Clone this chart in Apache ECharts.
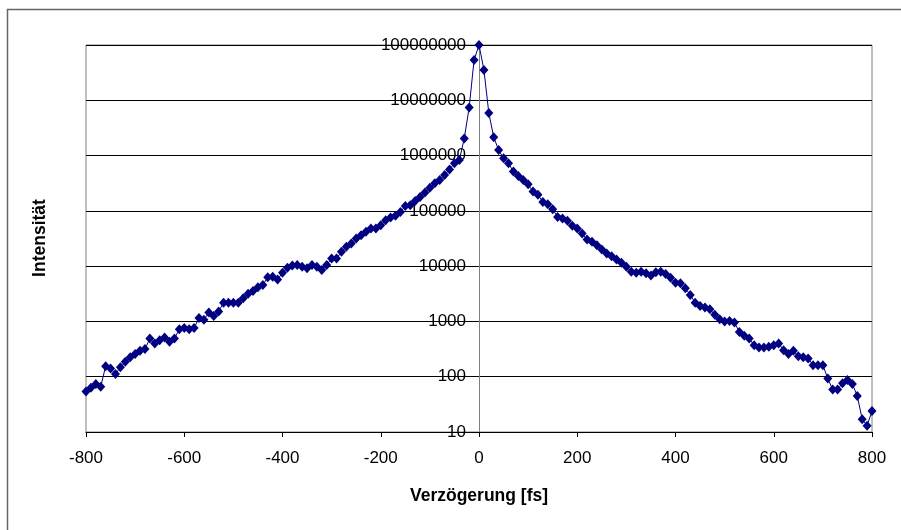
<!DOCTYPE html>
<html>
<head>
<meta charset="utf-8">
<script src="https://cdn.jsdelivr.net/npm/echarts@6/dist/echarts.min.js"></script>
<style>
  html, body { margin: 0; padding: 0; background: #ffffff; }
  #chart { width: 901px; height: 530px; }
</style>
</head>
<body>
<div id="chart"></div>
<script>
// Delay values (fs) of the measured autocorrelation trace
const delays = [
  -800, -790, -780, -770, -760, -750, -740, -730, -720, -710,
  -700, -690, -680, -670, -660, -650, -640, -630, -620, -610,
  -600, -590, -580, -570, -560, -550, -540, -530, -520, -510,
  -500, -490, -480, -470, -460, -450, -440, -430, -420, -410,
  -400, -390, -380, -370, -360, -350, -340, -330, -320, -310,
  -300, -290, -280, -270, -260, -250, -240, -230, -220, -210,
  -200, -190, -180, -170, -160, -150, -140, -130, -120, -110,
  -100, -90, -80, -70, -60, -50, -40, -30, -20, -10,
  0, 10, 20, 30, 40, 50, 60, 70, 80, 90,
  100, 110, 120, 130, 140, 150, 160, 170, 180, 190,
  200, 210, 220, 230, 240, 250, 260, 270, 280, 290,
  300, 310, 320, 330, 340, 350, 360, 370, 380, 390,
  400, 410, 420, 430, 440, 450, 460, 470, 480, 490,
  500, 510, 520, 530, 540, 550, 560, 570, 580, 590,
  600, 610, 620, 630, 640, 650, 660, 670, 680, 690,
  700, 710, 720, 730, 740, 750, 760, 770, 780, 790,
  800
];

// Measured intensity at each delay
const intensity = [
  54, 63, 74, 66, 155, 141, 112, 148, 186, 224,
  257, 295, 316, 490, 398, 457, 513, 427, 490, 724,
  759, 724, 759, 1148, 1072, 1445, 1259, 1514, 2188, 2188,
  2188, 2188, 2630, 3162, 3548, 4169, 4571, 6310, 6457, 5754,
  7586, 9333, 10233, 10471, 9772, 9120, 10471, 9772, 8511, 10471,
  13804, 13804, 18197, 22387, 25704, 31623, 36308, 41687, 47863, 47863,
  54954, 67608, 75858, 81283, 95499, 123027, 125893, 151356, 177828, 213796,
  263027, 316228, 363078, 446684, 562341, 724436, 831764, 2041738, 7413102, 53703180,
  100000000, 35481339, 5888437, 2137962, 1258925, 891251, 724436, 512861, 426580, 363078,
  301995, 223872, 194984, 144544, 131826, 107152, 77625, 72444, 66069, 53703,
  47863, 38905, 30200, 27542, 23988, 19953, 16982, 15136, 13183, 11482,
  9772, 7943, 7586, 7943, 7413, 6761, 7762, 7943, 7244, 6166,
  5012, 4898, 3981, 3020, 2188, 1905, 1778, 1660, 1318, 1096,
  1000, 1023, 955, 646, 550, 490, 372, 339, 339, 347,
  372, 398, 302, 257, 295, 234, 224, 214, 162, 162,
  162, 93, 59, 59, 76, 87, 74, 45, 17, 13,
  24
];

// Axis ranges and texts
const xRange = [-800, 800];
const xStep = 200;
const yRange = [10, 100000000];
const xTitle = 'Verzögerung [fs]';
const yTitle = 'Intensität';

const FONT = '"Liberation Sans", Arial, sans-serif';

// Plot area box (px)
const GRID = { left: 86, right: 29, top: 45, bottom: 98 };
const plotWidth = 901 - GRID.left - GRID.right;
// the value axis crosses the delay axis at 0 fs
const yAxisShift = plotWidth * (0 - xRange[0]) / (xRange[1] - xRange[0]);

const chart = echarts.init(document.getElementById('chart'), null, { renderer: 'canvas' });

const points = delays.map((d, i) => [d, intensity[i]]);

chart.setOption({
  animation: false,
  backgroundColor: '#ffffff',
  grid: {
    left: GRID.left, right: GRID.right, top: GRID.top, bottom: GRID.bottom,
    containLabel: false,
    outerBoundsMode: 'none',
    show: true,
    borderColor: '#808080',
    borderWidth: 1,
    backgroundColor: 'transparent'
  },
  xAxis: {
    type: 'value',
    min: xRange[0], max: xRange[1], interval: xStep,
    axisLine: { show: true, onZero: false, lineStyle: { color: '#000000', width: 1 } },
    axisTick: { show: true, inside: false, length: 5, lineStyle: { color: '#000000' } },
    axisLabel: { color: '#000000', fontSize: 17, fontFamily: FONT, margin: 18 },
    splitLine: { show: false },
    name: xTitle,
    nameLocation: 'middle',
    nameGap: 55,
    nameTextStyle: { color: '#000000', fontSize: 17.5, fontWeight: 'bold', fontFamily: FONT }
  },
  yAxis: {
    type: 'log',
    logBase: 10,
    min: yRange[0], max: yRange[1],
    position: 'left',
    offset: -yAxisShift,
    axisLine: { show: true, onZero: false, lineStyle: { color: '#808080', width: 1 } },
    axisTick: { show: true, inside: false, length: 6, lineStyle: { color: '#000000' } },
    minorTick: { show: false },
    axisLabel: {
      color: '#000000', fontSize: 17, fontFamily: FONT, margin: 13,
      formatter: v => String(Math.round(v))
    },
    splitLine: { show: true, lineStyle: { color: '#000000', width: 1 } }
  },
  graphic: [
    {
      type: 'rect',
      shape: { x: 7.5, y: 9.5, width: 1000, height: 1000 },
      style: { fill: 'none', stroke: '#666666', lineWidth: 1.5 },
      silent: true
    },
    {
      type: 'text',
      x: 40, y: 238,
      rotation: Math.PI / 2,
      style: {
        text: yTitle,
        font: 'bold 17.5px ' + FONT,
        fill: '#000000',
        textAlign: 'center',
        textVerticalAlign: 'middle'
      },
      silent: true
    }
  ],
  series: [{
    type: 'line',
    data: points,
    symbol: 'diamond',
    symbolSize: [9, 10],
    showAllSymbol: true,
    clip: false,
    lineStyle: { color: '#000080', width: 1 },
    itemStyle: { color: '#000080', borderWidth: 0 },
    emphasis: { disabled: true }
  }]
});
</script>
</body>
</html>
